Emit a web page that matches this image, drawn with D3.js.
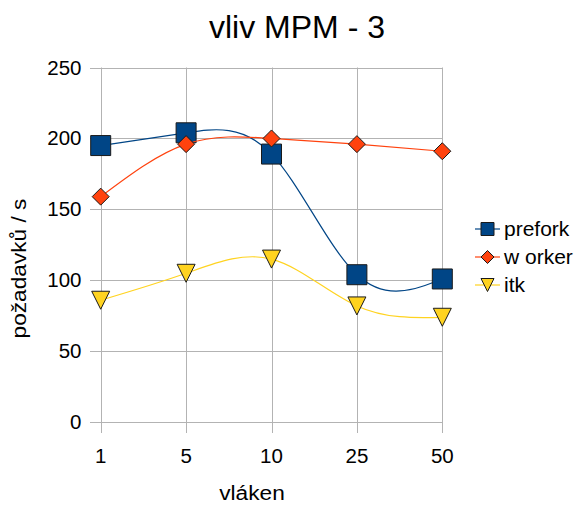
<!DOCTYPE html>
<html>
<head>
<meta charset="utf-8">
<script src="https://cdn.jsdelivr.net/npm/d3@7"></script>
<style>
  html, body { margin: 0; padding: 0; background: #fff; }
  svg { display: block; font-family: "Liberation Sans", Arial, sans-serif; }
</style>
</head>
<body>
<svg id="chart" width="578" height="507"></svg>
<script>
/* Data */
var categories = ['1', '5', '10', '25', '50'];
var yTicks = [0, 50, 100, 150, 200, 250];
var seriesNames = ['prefork', 'w orker', 'itk'];
var prefork = [195, 204, 189, 104, 101];
var worker = [159, 196, 200, 196, 191];
var itk = [86, 105, 115, 82, 74];

var series = [
    { name: seriesNames[0], values: prefork, color: '#004586', symbol: 'square' },
    { name: seriesNames[1], values: worker, color: '#ff420e', symbol: 'diamond' },
    { name: seriesNames[2], values: itk, color: '#ffd320', symbol: 'triangle' }
];

var svg = d3.select('#chart');

var x = d3.scalePoint()
    .domain(categories)
    .range([100.7, 442.3]);

var y = d3.scaleLinear()
    .domain([0, 250])
    .range([422.3, 67.5]);

var gridColor = '#b3b3b3';

// Horizontal grid + left ticks
svg.append('g')
    .selectAll('line')
    .data(yTicks)
    .enter()
    .append('line')
    .attr('x1', 90)
    .attr('x2', x.range()[1])
    .attr('y1', function (d) { return Math.round(y(d)) + 0.5; })
    .attr('y2', function (d) { return Math.round(y(d)) + 0.5; })
    .attr('stroke', gridColor)
    .attr('stroke-width', 1);

// Vertical grid + bottom ticks
svg.append('g')
    .selectAll('line')
    .data(categories)
    .enter()
    .append('line')
    .attr('x1', function (d) { return Math.round(x(d)) + 0.5; })
    .attr('x2', function (d) { return Math.round(x(d)) + 0.5; })
    .attr('y1', y(250))
    .attr('y2', 433)
    .attr('stroke', gridColor)
    .attr('stroke-width', 1);

// Y tick labels
svg.append('g')
    .selectAll('text')
    .data(yTicks)
    .enter()
    .append('text')
    .attr('x', 81.5)
    .attr('y', function (d) { return y(d) + 7; })
    .attr('text-anchor', 'end')
    .attr('font-size', 20.5)
    .attr('fill', '#000')
    .text(function (d) { return d; });

// X tick labels
svg.append('g')
    .selectAll('text')
    .data(categories)
    .enter()
    .append('text')
    .attr('x', function (d) { return x(d); })
    .attr('y', 463)
    .attr('text-anchor', 'middle')
    .attr('font-size', 20.5)
    .attr('fill', '#000')
    .text(function (d) { return d; });

// Titles
svg.append('text')
    .attr('x', 297)
    .attr('y', 38)
    .attr('text-anchor', 'middle')
    .attr('font-size', 32)
    .text('vliv MPM - 3');

svg.append('text')
    .attr('transform', 'translate(252,500) scale(1.08,1)')
    .attr('text-anchor', 'middle')
    .attr('font-size', 21)
    .text('vláken');

svg.append('text')
    .attr('transform', 'translate(26,268.5) rotate(-90) scale(1.08,1)')
    .attr('text-anchor', 'middle')
    .attr('font-size', 21)
    .text('požadavků / s');

// Marker shapes
var symbolPath = function (kind, size) {
    var h = size / 2;
    if (kind === 'square') {
        return 'M' + (-h) + ',' + (-h) + 'H' + h + 'V' + h + 'H' + (-h) + 'Z';
    }
    if (kind === 'diamond') {
        return 'M0,' + (-h) + 'L' + h + ',0L0,' + h + 'L' + (-h) + ',0Z';
    }
    // triangle pointing down
    return 'M' + (-h) + ',' + (-h) + 'H' + h + 'L0,' + h + 'Z';
};
var markerSize = { square: 20, diamond: 17, triangle: 18 };

var line = d3.line()
    .x(function (d, i) { return x(categories[i]); })
    .y(function (d) { return y(d); })
    .curve(d3.curveNatural);

series.forEach(function (s) {
    var g = svg.append('g').attr('class', 'series');

    g.append('path')
        .attr('d', line(s.values))
        .attr('fill', 'none')
        .attr('stroke', s.color)
        .attr('stroke-width', 1.2);

    g.selectAll('path.marker')
        .data(s.values)
        .enter()
        .append('path')
        .attr('class', 'marker')
        .attr('transform', function (d, i) {
            return 'translate(' + x(categories[i]) + ',' + y(d) + ')';
        })
        .attr('d', symbolPath(s.symbol, markerSize[s.symbol]))
        .attr('fill', s.color)
        .attr('stroke', '#1a1a1a')
        .attr('stroke-width', 1);
});

// Legend
var legend = svg.append('g')
    .selectAll('g')
    .data(series)
    .enter()
    .append('g')
    .attr('transform', function (d, i) { return 'translate(0,' + (229 + i * 28) + ')'; });

legend.append('line')
    .attr('x1', 475)
    .attr('x2', 500)
    .attr('stroke', function (d) { return d.color; })
    .attr('stroke-width', 1.2);

legend.append('path')
    .attr('transform', 'translate(487.5,0)')
    .attr('d', function (d) { return symbolPath(d.symbol, 13); })
    .attr('fill', function (d) { return d.color; })
    .attr('stroke', '#1a1a1a')
    .attr('stroke-width', 1);

legend.append('text')
    .attr('x', 504)
    .attr('y', 7)
    .attr('font-size', 21)
    .text(function (d) { return d.name; });
</script>
</body>
</html>
